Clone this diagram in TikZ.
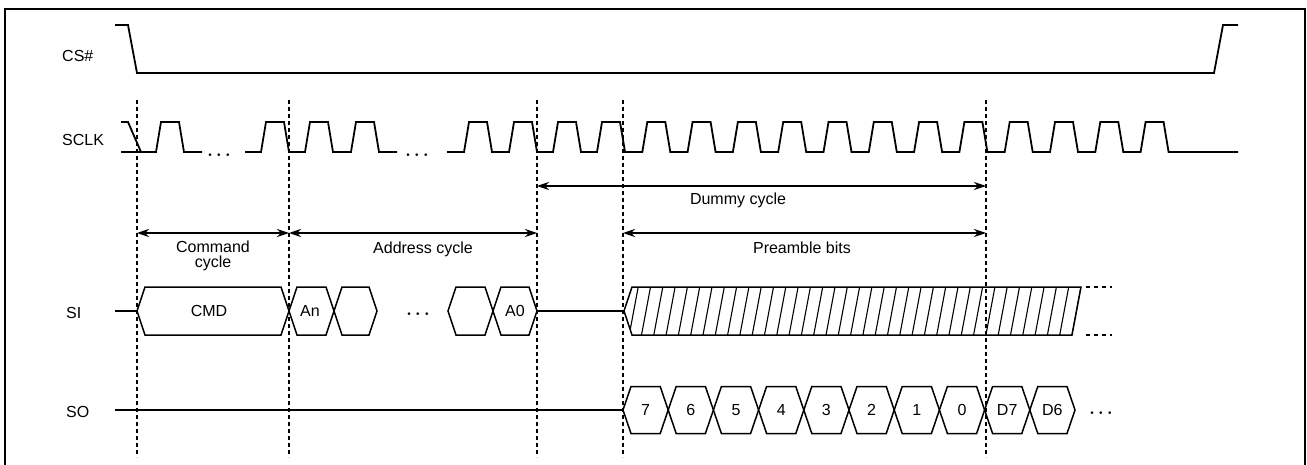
\documentclass[tikz,border=0pt]{standalone}
\usepackage{fontspec}
\setmainfont{Liberation Sans}
\usetikzlibrary{arrows.meta}
\begin{document}
\begin{tikzpicture}[x=1pt,y=-1pt,
  wave/.style={line width=1.8pt,line join=miter},
  hexa/.style={line width=1.5pt,line join=miter},
  hatchline/.style={line width=1.1pt},
  vguide/.style={line width=1.3pt,dash pattern=on 4pt off 3pt},
  span/.style={line width=1.2pt,{Stealth[length=12pt,width=8pt]}-{Stealth[length=12pt,width=8pt]}},
  lbl/.style={font=\fontsize{16}{14.5}\selectfont,inner sep=0pt},
  dots/.style={font=\fontsize{19}{19}\selectfont\boldmath,inner sep=0pt},
  sig/.style={lbl,anchor=base west},
  txt/.style={lbl,anchor=base}]
\useasboundingbox (0,0) rectangle (1307,465);
\clip (0,0) rectangle (1307,465);
% frame
\draw[line width=1.6pt] (5,9) rectangle (1305,480);

% signal labels
\node[sig] (cs)   at (62,62)  {CS\#};
\node[sig] (sclk) at (62,146) {SCLK};
\node[sig] (si)   at (66,318) {SI};
\node[sig] (so)   at (66,417) {SO};

% CS#
\draw[wave] (115,25) -- (128,25) -- (137,73) -- (1214,73) -- (1223,25) -- (1238,25);

% SCLK
\draw[wave] (121,122) -- (128,122) -- (141,152);
\draw[wave] (121,152) \foreach \f in {184} { -- (\f-28,152) -- (\f-23,122) -- (\f-5,122) -- (\f,152) } -- (202,152);
\node[dots] (dk1) at (219,155) {$\cdots$};
\draw[wave] (245,152) \foreach \f in {289,333,379} { -- (\f-28,152) -- (\f-23,122) -- (\f-5,122) -- (\f,152) } -- (397,152);
\node[dots] (dk2) at (417,155) {$\cdots$};
\draw[wave] (447,152) \foreach \f in {492,537,581,625,670.3,715.6,760.9,806.2,851.5,896.8,942.1,987.4,1032.7,1078,1123.3,1168.6} { -- (\f-28,152) -- (\f-23,122) -- (\f-5,122) -- (\f,152) } -- (1238,152);

% guides
\foreach \n/\x in {g1/137,g2/289,g3/537,g4/623,g5/986} {
  \coordinate (\n t) at (\x,100);
  \coordinate (\n b) at (\x,457);
  \draw[vguide] (\n t) -- (\n b);
}

% spans
\coordinate (cmdL) at (137,233); \coordinate (cmdR) at (289,233);
\coordinate (adrL) at (289,233); \coordinate (adrR) at (537,233);
\coordinate (dumL) at (537,186); \coordinate (dumR) at (986,186);
\coordinate (preL) at (623,233); \coordinate (preR) at (986,233);
\draw[span] (cmdL) -- (cmdR);
\draw[span] (adrL) -- (adrR);
\draw[span] (dumL) -- (dumR);
\draw[span] (preL) -- (preR);
\node[lbl,align=center] (cmdlbl) at (213,256) {Command\\cycle};
\node[txt] (adrlbl) at (423,254) {Address cycle};
\node[txt] (dumlbl) at (738,205) {Dummy cycle};
\node[txt] (prelbl) at (802,254) {Preamble bits};

% SI
\def\hh{24}
\draw[hexa] (115,311) -- (137,311);
\foreach \a/\b in {137/289,289/334,334/377,448/493,493/537} {
  \draw[hexa] (\a,311) -- (\a+8,311-\hh) -- (\b-8,311-\hh) -- (\b,311) -- (\b-8,311+\hh) -- (\a+8,311+\hh) -- cycle;
}
\node[lbl] (cmd) at (209,311) {CMD};
\node[lbl] (an)  at (310,311) {An};
\node[dots] (dsi) at (418,314) {$\cdots$};
\node[lbl] (a0)  at (515,311) {A0};
\draw[hexa] (537,311) -- (624,311);
\begin{scope}
  \clip (624,311) -- (632,287) -- (1081,287) -- (1072,335) -- (632,335) -- cycle;
  \foreach \k in {0,...,37} \draw[hatchline] ({1081-12.3*\k},287) -- ({1072-12.3*\k},335);
\end{scope}
\draw[hexa] (1072,335) -- (632,335) -- (624,311) -- (632,287) -- (1081,287) -- cycle;
\draw[hexa,dash pattern=on 4pt off 4pt] (1086,287) -- (1112,287);
\draw[hexa,dash pattern=on 4pt off 4pt] (1086,335) -- (1112,335);

% SO
\draw[hexa] (115,410) -- (623,410);
\foreach \i/\t in {0/7,1/6,2/5,3/4,4/3,5/2,6/1,7/0,8/D7,9/D6} {
  \pgfmathsetmacro\a{623+45.2*\i}
  \pgfmathsetmacro\b{623+45.2*(\i+1)}
  \draw[hexa] (\a,410) -- (\a+8,386.5) -- (\b-8,386.5) -- (\b,410) -- (\b-8,433.5) -- (\a+8,433.5) -- cycle;
  \node[lbl] (so\i) at ({(\a+\b)/2},410) {\t};
}
\node[dots] (dso) at (1101,413) {$\cdots$};
\end{tikzpicture}
\end{document}
